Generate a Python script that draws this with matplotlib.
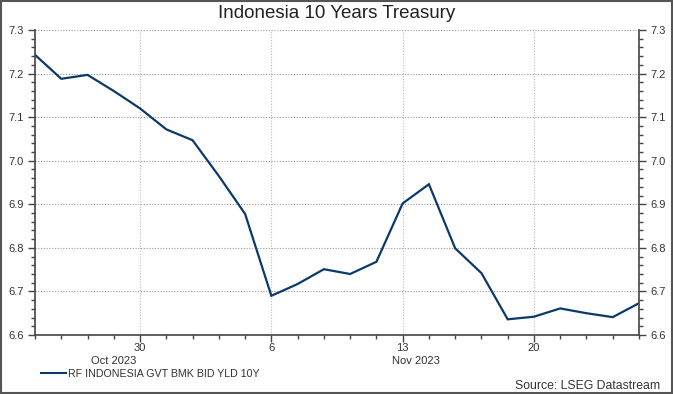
import matplotlib
matplotlib.use("Agg")
import matplotlib.pyplot as plt
from matplotlib.ticker import MultipleLocator, FixedLocator, FormatStrFormatter
from matplotlib.patches import Rectangle
from matplotlib.lines import Line2D
import matplotlib.transforms as mtransforms

plt.rcParams['font.family'] = ['Liberation Sans', 'DejaVu Sans']

dates = ["2023-10-24", "2023-10-25", "2023-10-26", "2023-10-27",
         "2023-10-30", "2023-10-31", "2023-11-01", "2023-11-02", "2023-11-03",
         "2023-11-06", "2023-11-07", "2023-11-08", "2023-11-09", "2023-11-10",
         "2023-11-13", "2023-11-14", "2023-11-15", "2023-11-16", "2023-11-17",
         "2023-11-20", "2023-11-21", "2023-11-22", "2023-11-23", "2023-11-24"]
yields = [7.243, 7.188, 7.197, 7.160,
          7.120, 7.072, 7.047, 6.965, 6.878,
          6.690, 6.717, 6.751, 6.740, 6.768,
          6.902, 6.946, 6.799, 6.742, 6.636,
          6.642, 6.661, 6.650, 6.641, 6.673]
week_tick_dates = ["2023-10-30", "2023-11-06", "2023-11-13", "2023-11-20"]
week_tick_labels = ["30", "6", "13", "20"]
month_labels = ["Oct 2023", "Nov 2023"]
month_label_pos = [3, 14.5]
series_name = "RF INDONESIA GVT BMK BID YLD 10Y"
title = "Indonesia 10 Years Treasury"
source = "Source: LSEG Datastream"

x = list(range(len(dates)))
week_ticks = [dates.index(d) for d in week_tick_dates]

W, H = 673, 394
fig = plt.figure(figsize=(W / 100, H / 100), dpi=100)
fig.patch.set_facecolor("white")
fig.add_artist(Rectangle((0.002, 0.003), 0.996, 0.994, transform=fig.transFigure,
                         fill=False, edgecolor="#555555", linewidth=1.5))

ax = fig.add_axes([35 / W, 1 - 335 / H, (639 - 35) / W, (335 - 30) / H])
line_color = "#0b3a6a"
ax.plot(x, yields, color=line_color, linewidth=1.6, solid_joinstyle="miter")
ax.set_xlim(0, len(dates) - 1)
ax.set_ylim(6.6, 7.3)

text_color = "#333333"
spine_color = "#444444"
tick_fs = 8.0
ax.yaxis.set_major_locator(MultipleLocator(0.1))
ax.yaxis.set_minor_locator(MultipleLocator(0.02))
ax.yaxis.set_major_formatter(FormatStrFormatter("%.1f"))
ax.xaxis.set_major_locator(FixedLocator(week_ticks))
ax.xaxis.set_minor_locator(FixedLocator(x))
ax.set_xticklabels(week_tick_labels)

ax.tick_params(axis="y", which="both", left=True, right=True, labelleft=True, labelright=True,
               direction="out", colors=spine_color, labelcolor=text_color, labelsize=tick_fs, pad=3)
ax.tick_params(axis="y", which="major", length=5, width=1)
ax.tick_params(axis="y", which="minor", length=3, width=1)
ax.tick_params(axis="x", which="major", length=5, width=1, direction="out",
               colors=spine_color, labelcolor=text_color, labelsize=tick_fs, pad=0.5)
ax.tick_params(axis="x", which="minor", length=3, width=1, direction="out", colors=spine_color)

for s in ("left", "right", "bottom"):
    ax.spines[s].set_color(spine_color)
    ax.spines[s].set_linewidth(1.2)
ax.spines["top"].set_visible(False)

ax.grid(True, axis="y", which="major", linestyle=(0, (1, 1.5)), color="#999999", linewidth=0.8)
ax.grid(True, axis="x", which="major", linestyle=(0, (1, 1.5)), color="#bbbbbb", linewidth=0.8)
ax.set_axisbelow(True)

trans = mtransforms.blended_transform_factory(ax.transData, fig.transFigure)
for lbl, pos in zip(month_labels, month_label_pos):
    ax.text(pos, 1 - 361 / H, lbl, transform=trans, ha="center", va="center",
            fontsize=tick_fs, color=text_color)

fig.text(0.5, 1 - 13 / H, title, ha="center", va="center", fontsize=13.5, color="#222222")

fig.add_artist(Line2D([41 / W, 66 / W], [1 - 373 / H, 1 - 373 / H], transform=fig.transFigure,
                      color=line_color, linewidth=1.5))
fig.text(68 / W, 1 - 374 / H, series_name, ha="left", va="center", fontsize=7.7, color=text_color)
fig.text(660 / W, 1 - 386 / H, source, ha="right", va="center", fontsize=8.8, color=text_color)

fig.savefig("out.png", dpi=100, facecolor="white")
